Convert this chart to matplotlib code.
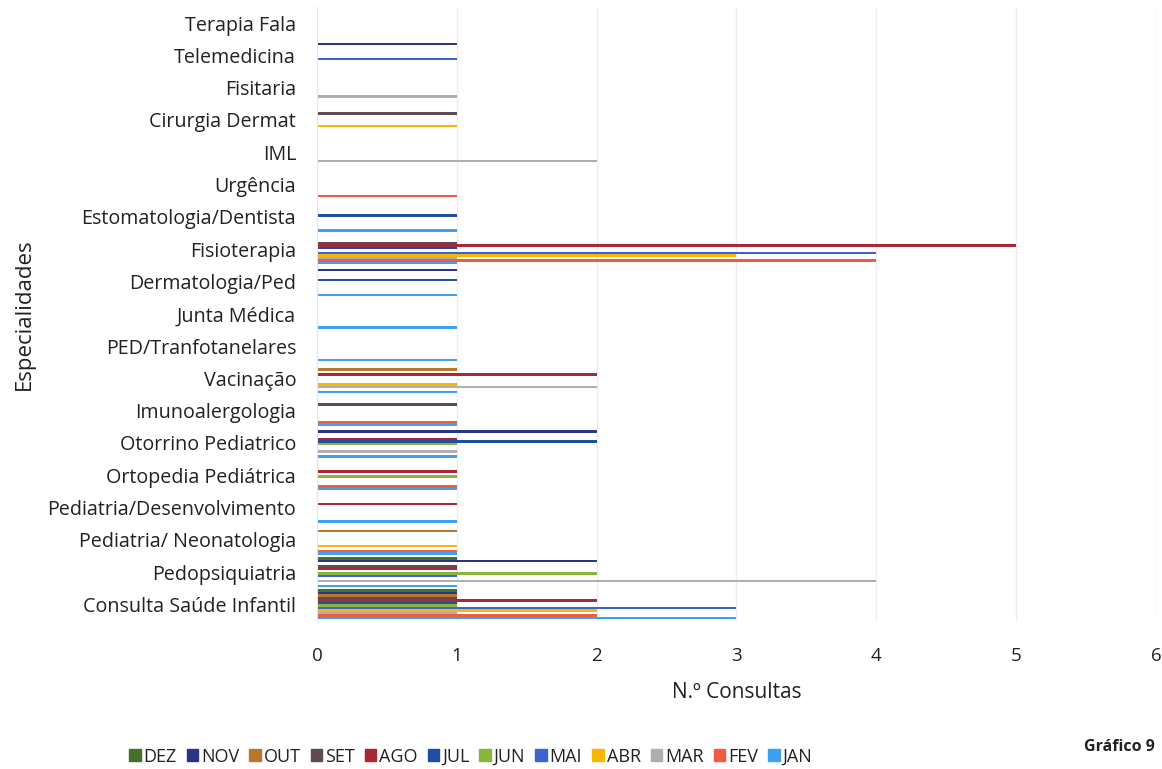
import numpy as np
import matplotlib.pyplot as plt
from matplotlib.patches import Patch

plt.rcParams['font.family'] = ['Open Sans', 'DejaVu Sans']

# categories listed bottom -> top
especialidades = ["Consulta Saúde Infantil", "Pedopsiquiatria", "Pediatria/ Neonatologia",
                  "Pediatria/Desenvolvimento", "Ortopedia Pediátrica", "Otorrino Pediatrico",
                  "Imunoalergologia", "Vacinação", "PED/Tranfotanelares", "Junta Médica",
                  "Dermatologia/Ped", "Fisioterapia", "Estomatologia/Dentista", "Urgência",
                  "IML", "Cirurgia Dermat", "Fisitaria", "Telemedicina", "Terapia Fala"]

meses = ["JAN", "FEV", "MAR", "ABR", "MAI", "JUN", "JUL", "AGO", "SET", "OUT", "NOV", "DEZ"]

jan = [3, 1, 1, 1, 1, 1, 1, 1, 1, 1, 1, 1, 1, 0, 0, 0, 0, 0, 0]
fev = [2, 0, 1, 0, 1, 0, 1, 0, 0, 0, 0, 4, 0, 1, 0, 0, 0, 0, 0]
mar = [1, 4, 0, 0, 0, 1, 0, 2, 0, 0, 0, 1, 0, 0, 2, 0, 1, 0, 0]
abr = [2, 0, 1, 0, 0, 0, 0, 1, 0, 0, 0, 3, 0, 0, 0, 1, 0, 0, 0]
mai = [3, 1, 0, 0, 0, 0, 0, 0, 0, 0, 0, 4, 0, 0, 0, 0, 0, 1, 0]
jun = [1, 2, 0, 0, 1, 1, 0, 0, 0, 0, 0, 0, 0, 0, 0, 0, 0, 0, 0]
jul = [1, 0, 0, 0, 0, 2, 0, 0, 0, 0, 1, 1, 1, 0, 0, 0, 0, 0, 0]
ago = [2, 1, 0, 1, 1, 1, 0, 2, 0, 0, 0, 5, 0, 0, 0, 0, 0, 0, 0]
set_ = [1, 1, 0, 0, 0, 0, 1, 0, 0, 0, 0, 1, 0, 0, 0, 1, 0, 0, 0]
out = [1, 0, 1, 0, 0, 0, 0, 1, 0, 0, 0, 0, 0, 0, 0, 0, 0, 0, 0]
nov = [1, 2, 0, 0, 0, 2, 0, 0, 0, 0, 1, 0, 0, 0, 0, 0, 0, 1, 0]
dez = [1, 1, 0, 0, 0, 0, 0, 0, 0, 0, 0, 0, 0, 0, 0, 0, 0, 0, 0]

series = [jan, fev, mar, abr, mai, jun, jul, ago, set_, out, nov, dez]
cores = ['#3f9ff0', '#ef5b43', '#b3acb3', '#f6b800', '#3d63d0', '#8ab43c',
         '#1d4f9e', '#a8283a', '#5e4a55', '#b8782c', '#2b3588', '#46702c']

fig = plt.figure(figsize=(11.62, 7.69), dpi=100)
ax = fig.add_axes([0.2728, 0.193, 0.722, 0.798])

y = np.arange(len(especialidades))
h = 0.0774
for i, (vals, cor) in enumerate(zip(series, cores)):
    ax.barh(y + (i - 5.5) * h, vals, height=h, color=cor, linewidth=0)

ax.set_xlim(0, 6)
ax.set_ylim(-0.5, len(especialidades) - 0.5)
ax.set_xticks(range(7))
ax.set_yticks(y)
ax.set_yticklabels(especialidades)
ax.tick_params(axis='y', length=0, pad=15, labelsize=14.2, colors='#222222')
ax.tick_params(axis='x', length=0, pad=19, labelsize=13.5, colors='#222222')
ax.xaxis.grid(True, color='#ededed', linewidth=1)
ax.set_axisbelow(True)
for s in ['top', 'right', 'bottom']:
    ax.spines[s].set_visible(False)
ax.spines['left'].set_color('#e6e6e6')

ax.set_xlabel("N.º Consultas", fontsize=15, color='#222222', labelpad=12)
ax.set_ylabel("Especialidades", fontsize=16, color='#222222')
ax.yaxis.set_label_coords(-0.336, 0.5)

handles = [Patch(color=c) for c in cores[::-1]]
fig.legend(handles, meses[::-1], loc='center', bbox_to_anchor=(0.405, 0.016), ncol=12,
           frameon=False, fontsize=13, handlelength=0.65, handleheight=0.65,
           handletextpad=0.15, columnspacing=0.55, labelcolor='#222222')

fig.text(0.963, 0.029, "Gráfico 9", fontsize=11.5, fontweight='bold', ha='center',
         va='center', color='#222222')

fig.savefig("out.png", dpi=100)
